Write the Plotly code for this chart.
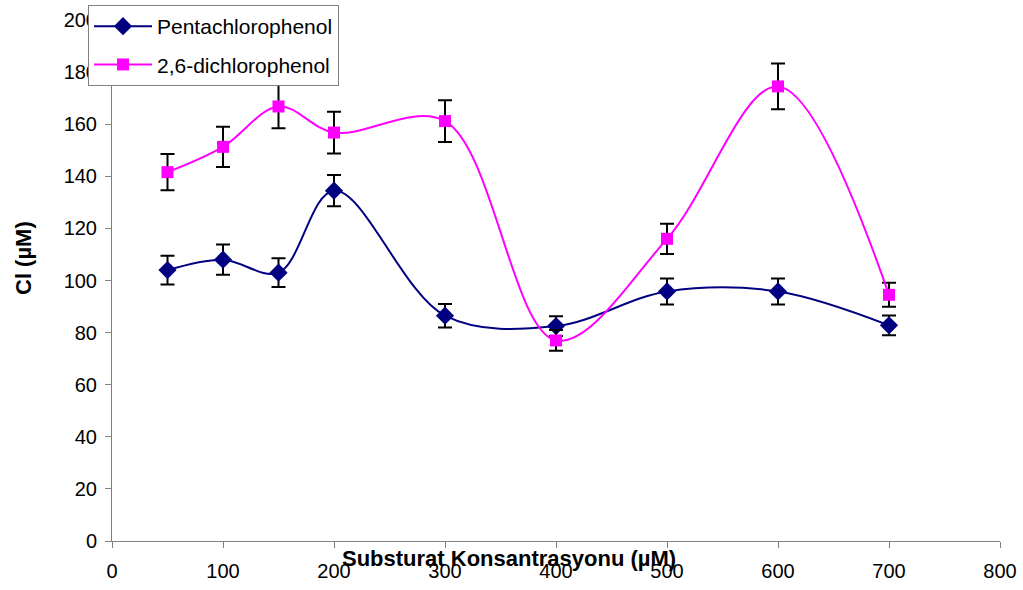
import plotly.graph_objects as go

x_vals = [50, 100, 150, 200, 300, 400, 500, 600, 700]
penta = [104.0, 108.0, 103.0, 134.5, 86.5, 82.5, 95.8, 95.8, 82.8]
penta_err = [5.5, 5.8, 5.5, 6.0, 4.5, 3.8, 5.0, 5.0, 3.8]
dcp = [141.6, 151.3, 166.8, 156.8, 161.2, 77.0, 116.0, 174.5, 94.5]
dcp_err = [7.0, 7.7, 8.4, 8.0, 8.0, 4.0, 5.8, 8.8, 4.6]

series_names = ["Pentachlorophenol", "2,6-dichlorophenol"]
x_title = "Substurat Konsantrasyonu (µM)"
y_title = "Cl (µM)"

fig = go.Figure()
fig.add_trace(go.Scatter(
    x=x_vals, y=penta, name=series_names[0], mode="lines+markers", legendgroup="a",
    line=dict(color="#000080", width=2, shape="spline", smoothing=1.0),
    marker=dict(symbol="diamond", size=14, color="#000080"),
    error_y=dict(type="data", array=penta_err, visible=True, color="black", thickness=2, width=7),
))
fig.add_trace(go.Scatter(
    x=x_vals, y=dcp, name=series_names[1], mode="lines+markers", legendgroup="b",
    line=dict(color="#FF00FF", width=2, shape="spline", smoothing=1.0),
    marker=dict(symbol="square", size=12, color="#FF00FF"),
    error_y=dict(type="data", array=dcp_err, visible=True, color="black", thickness=2, width=7),
))

font_family = "Liberation Sans, Arial, sans-serif"
fig.update_layout(
    width=1023, height=590,
    margin=dict(l=112, r=23, t=20, b=49, autoexpand=False),
    paper_bgcolor="white", plot_bgcolor="white",
    font=dict(family=font_family, size=20, color="black"),
    showlegend=True,
    legend=dict(
        xref="container", yref="container",
        x=88 / 1023, y=1 - 5 / 590, xanchor="left", yanchor="top",
        bgcolor="white", bordercolor="#808080", borderwidth=1,
        font=dict(size=21, family=font_family),
        traceorder="grouped", tracegroupgap=8,
        itemwidth=58,
    ),
    xaxis=dict(
        range=[0, 800], dtick=100, tick0=0, showgrid=False, zeroline=False,
        showline=True, linecolor="#808080", linewidth=1,
        ticks="outside", ticklen=6, tickcolor="#808080",
        tickfont=dict(size=20), ticklabelstandoff=6, automargin=False,
    ),
    yaxis=dict(
        range=[0, 200], dtick=20, tick0=0, showgrid=False, zeroline=False,
        showline=True, linecolor="#808080", linewidth=1,
        ticks="outside", ticklen=6, tickcolor="#808080",
        tickfont=dict(size=20), ticklabelstandoff=4, automargin=False,
    ),
    annotations=[
        dict(text="<b>" + x_title + "</b>", xref="paper", yref="paper",
             x=(509 - 112) / 888, y=-(558 - 541) / 521, xanchor="center", yanchor="middle",
             showarrow=False, font=dict(size=22, family=font_family)),
        dict(text="<b>" + y_title + "</b>", xref="paper", yref="paper",
             x=-(112 - 23) / 888, y=(541 - 258) / 521, xanchor="center", yanchor="middle",
             textangle=-90, showarrow=False, font=dict(size=22, family=font_family)),
    ],
)

fig.write_html("out.html")
